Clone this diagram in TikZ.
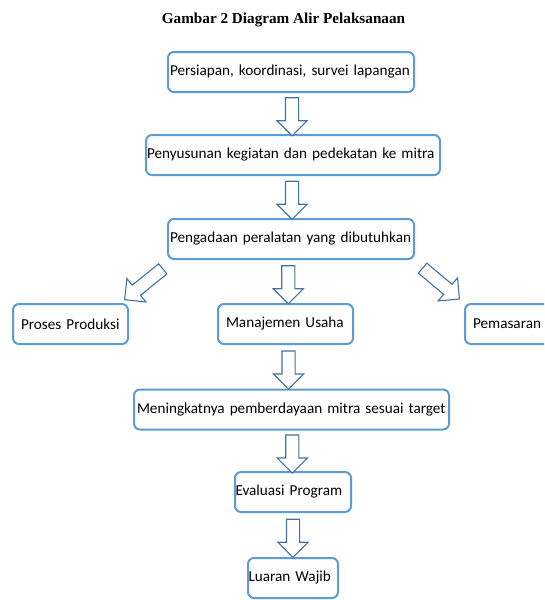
\documentclass[tikz,border=0pt]{standalone}
\usepackage{fontspec}
\setmainfont{Carlito}
\newfontfamily\captionserif{Liberation Serif}
\usetikzlibrary{shapes.arrows,calc}
\definecolor{BoxBlue}{rgb}{0.36, 0.61, 0.84}
\definecolor{ArrowBlue}{rgb}{0.27, 0.45, 0.62}

\begin{document}
\begin{tikzpicture}[x=1pt,y=1pt,yscale=-1,xscale=1,
		box/.style={draw=BoxBlue, line width=2pt, rounded corners=6pt, fill=white, minimum height=40pt, inner ysep=0pt, align=left, font=\fontsize{15.2}{18}\selectfont},
		barrow/.style={single arrow, draw=ArrowBlue, line width=1.1pt, fill=white, inner sep=0pt, inner ysep=6pt, single arrow head extend=8.5pt, minimum height=38pt}]
		% Page is 544 x 600, the Pemasaran box runs off the right edge
		\clip (0,0) rectangle (544,600);

		% Caption above the chart
		\node[anchor=base, font=\captionserif\bfseries\fontsize{15.2}{18}\selectfont] (title) at (283.5,23) {Gambar 2 Diagram Alir Pelaksanaan};

		% The boxes of the main column
		\node[box, text width=242pt, inner xsep=2pt] (prep) at (291,72) {Persiapan, koordinasi, survei lapangan};
		\node[box, text width=292pt, inner xsep=1pt] (plan) at (293,155) {Penyusunan kegiatan dan pedekatan ke mitra};
		\node[box, text width=242pt, inner xsep=2pt] (equip) at (291,239) {Pengadaan peralatan yang dibutuhkan};

		% The three branches
		\node[box, text width=99pt, inner xsep=8pt] (prod) at (70.5,324) {Proses Produksi};
		\node[box, text width=119pt, inner xsep=8pt] (manage) at (285.5,324) {Manajemen Usaha};
		\node[box, text width=78pt, inner xsep=8pt] (market) at (512,324) {Pemasaran};

		% The lower part of the column
		\node[box, text width=309pt, inner xsep=3pt] (goal) at (291.5,409.5) {Meningkatnya pemberdayaan mitra sesuai target};
		\node[box, text width=115pt, inner xsep=0.5pt] (eval) at (293,492) {Evaluasi Program};
		\node[box, text width=89pt, inner xsep=0.5pt] (output) at (293,578) {Luaran Wajib};

		% Hollow block arrows going down
		\node[barrow, rotate=-90] (a1) at ($(prep.south)!.5!(plan.north)$) {};
		\node[barrow, rotate=-90] (a2) at ($(plan.south)!.5!(equip.north)$) {};
		\node[barrow, rotate=-90] (a3) at ($(equip.south)!.5!(manage.north)$) {};
		\node[barrow, rotate=-90] (a4) at ($(manage.south)!.5!(goal.north)$) {};
		\node[barrow, rotate=-90] (a5) at ($(goal.south)!.5!(eval.north)$) {};
		\node[barrow, rotate=-90] (a6) at ($(eval.south)!.5!(output.north)$) {};

		% Slanted arrows to the side branches
		\node[barrow, rotate=219, minimum height=49pt] (a7) at ($([shift={(-2.5,7.5)}]equip.south west)!.5!([shift={(-1,-6)}]prod.north east)$) {};
		\node[barrow, rotate=-40, minimum height=48pt] (a8) at ($([shift={(6,7)}]equip.south east)!.5!([shift={(-8,-7)}]market.north west)$) {};
	\end{tikzpicture}
\end{document}
